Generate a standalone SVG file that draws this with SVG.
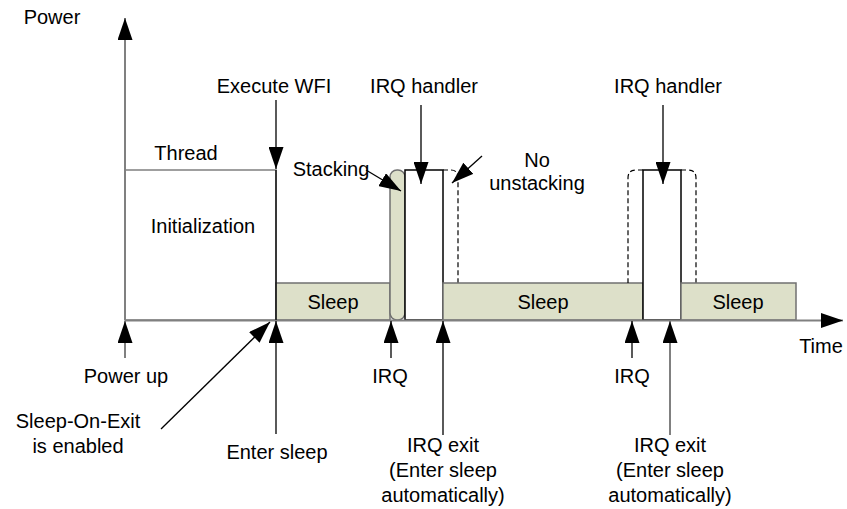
<svg xmlns="http://www.w3.org/2000/svg" width="847" height="509" viewBox="0 0 847 509">
<defs>
<marker id="ah" markerUnits="userSpaceOnUse" markerWidth="22" markerHeight="15" refX="22" refY="7.5" orient="auto">
<path d="M0,0 L22,7.5 L0,15 z" fill="#000"/>
</marker>
</defs>
<style>
text{font-family:"Liberation Sans",Arial,sans-serif;font-size:20px;fill:#000;text-anchor:middle}
.ax{stroke:#808080;stroke-width:2;fill:none}
.sl{fill:#dde0c9;stroke:#707070;stroke-width:1.5}
.wb{fill:#fff;stroke:#000;stroke-width:1.5}
.dsh{fill:none;stroke:#000;stroke-width:1.2;stroke-dasharray:5,3}
.ar{stroke:#000;stroke-width:1.3;fill:none;marker-end:url(#ah)}
.ag{stroke:#808080;stroke-width:2;fill:none;marker-end:url(#ah)}
</style>
<g id="init">
<rect x="125" y="170" width="151" height="150" fill="#fff" stroke="#808080" stroke-width="1.5"/>
<text x="186" y="160">Thread</text>
<text x="203" y="233">Initialization</text>
</g>
<g id="sleep1">
<rect class="sl" x="276" y="283" width="114" height="37"/>
<text x="333" y="309">Sleep</text>
</g>
<g id="stacking">
<rect class="sl" x="390" y="170" width="15" height="150" rx="7" ry="7" stroke="#000"/>
</g>
<g id="irq1">
<rect class="wb" x="405" y="170" width="38" height="150"/>
<path class="dsh" d="M443,170 L451,170 Q458,170 458,178 L458,283"/>
</g>
<g id="sleep2">
<rect class="sl" x="443" y="283" width="200" height="37"/>
<text x="543" y="309">Sleep</text>
</g>
<g id="irq2">
<path class="dsh" d="M643,170 L636,170 Q628,170 628,178 L628,283"/>
<rect class="wb" x="643" y="170" width="38" height="150"/>
<path class="dsh" d="M681,170 L688,170 Q696,170 696,178 L696,283"/>
</g>
<g id="sleep3">
<rect class="sl" x="681" y="283" width="115" height="37"/>
<text x="738" y="309">Sleep</text>
</g>
<g id="connectors">
<line class="ag" x1="125" y1="320" x2="125" y2="18"/>
<line class="ag" x1="125" y1="320.5" x2="843" y2="320.5"/>
<line class="ar" x1="276" y1="100" x2="276" y2="169"/>
<line x1="276" y1="170" x2="276" y2="320" stroke="#000" stroke-width="1.3"/>
<line class="ar" x1="421" y1="105" x2="421" y2="184"/>
<line class="ar" x1="663" y1="105" x2="663" y2="184"/>
<line class="ar" x1="366" y1="170" x2="401" y2="191"/>
<line class="ar" x1="482" y1="156" x2="452" y2="183"/>
<line class="ag" x1="125" y1="358" x2="125" y2="321"/>
<line class="ar" x1="276" y1="434" x2="276" y2="321"/>
<line class="ar" x1="161" y1="429" x2="270" y2="322"/>
<line class="ar" x1="391" y1="358" x2="391" y2="321"/>
<line class="ar" x1="443" y1="435" x2="443" y2="321"/>
<line class="ar" x1="632" y1="358" x2="632" y2="321"/>
<line class="ag" x1="670" y1="435" x2="670" y2="321"/>
</g>
<g id="labels">
<text x="52" y="24">Power</text>
<text x="274" y="93">Execute WFI</text>
<text x="424" y="93">IRQ handler</text>
<text x="668" y="93">IRQ handler</text>
<text x="331" y="176">Stacking</text>
<text x="537" y="167">No</text>
<text x="537" y="190">unstacking</text>
<text x="821" y="353">Time</text>
<text x="126" y="383">Power up</text>
<text x="78" y="428">Sleep-On-Exit</text>
<text x="78" y="453">is enabled</text>
<text x="277" y="459">Enter sleep</text>
<text x="390" y="383">IRQ</text>
<text x="632" y="383">IRQ</text>
<text x="443" y="452">IRQ exit</text>
<text x="443" y="477">(Enter sleep</text>
<text x="443" y="502">automatically)</text>
<text x="670" y="452">IRQ exit</text>
<text x="670" y="477">(Enter sleep</text>
<text x="670" y="502">automatically)</text>
</g>
</svg>
